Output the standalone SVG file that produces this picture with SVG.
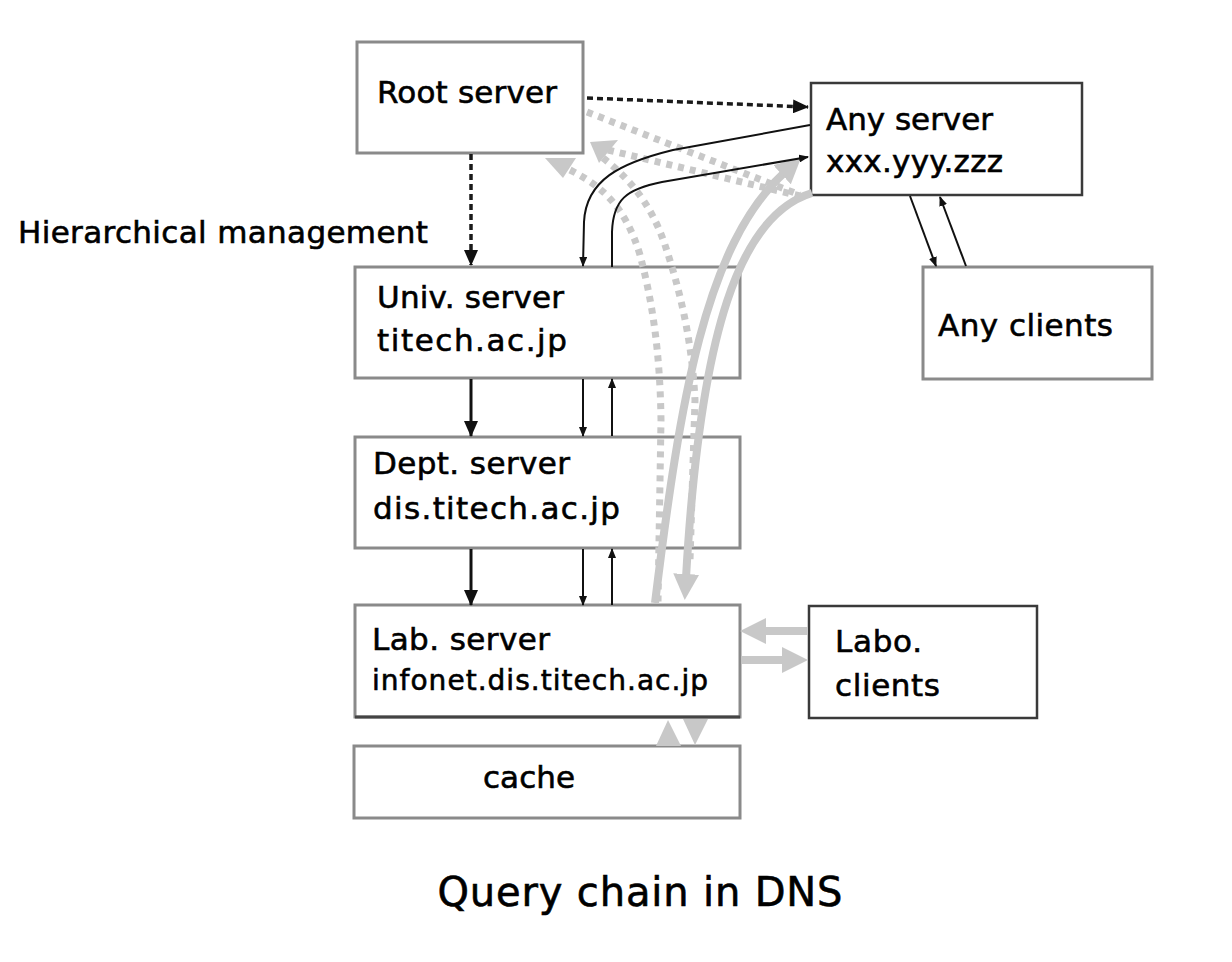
<svg xmlns="http://www.w3.org/2000/svg" width="1232" height="962" viewBox="0 0 1232 962">
<style>
text{font-family:"DejaVu Sans","Liberation Sans",sans-serif;fill:#000;stroke:#000;stroke-width:0.6}
.lbl{font-size:31px}
.box{fill:#fff;stroke:#8a8a8a;stroke-width:3}
.dk{stroke:#3a3a3a;stroke-width:2.5}
.blk{fill:none;stroke:#111;stroke-width:2}
.thk{stroke-width:3}
.bdot{fill:none;stroke:#1a1a1a;stroke-width:3.5;stroke-dasharray:6 4}
.gsol{fill:none;stroke:#c8c8c8;stroke-width:8}
.gdot{fill:none;stroke:#c8c8c8;stroke-width:7;stroke-dasharray:6 6}
.gtri{fill:#c8c8c8}
</style>
<defs>
<marker id="ab" viewBox="0 0 10 8" refX="9" refY="4" markerWidth="10" markerHeight="8" markerUnits="userSpaceOnUse" orient="auto"><path d="M0,0 L10,4 L0,8 z" fill="#111"/></marker>
<marker id="abl" viewBox="0 0 16 14" refX="15" refY="7" markerWidth="16" markerHeight="14" markerUnits="userSpaceOnUse" orient="auto"><path d="M0,0 L16,7 L0,14 z" fill="#111"/></marker>
<marker id="ag" viewBox="0 0 26 26" refX="4" refY="13" markerWidth="26" markerHeight="26" markerUnits="userSpaceOnUse" orient="auto"><path d="M0,0 L26,13 L0,26 z" fill="#c8c8c8"/></marker>
</defs>
<rect width="1232" height="962" fill="#fff"/>

<g id="root">
<rect class="box" x="357" y="42" width="226" height="111"/>
<text class="lbl" x="377" y="103" textLength="180">Root server</text>
</g>
<g id="any-server">
<rect class="box dk" x="811" y="83" width="271" height="112"/>
<text class="lbl" x="826" y="130" textLength="167">Any server</text>
<text class="lbl" x="826" y="172" textLength="177">xxx.yyy.zzz</text>
</g>
<g id="univ-server">
<rect class="box" x="355" y="267" width="385" height="111"/>
<text class="lbl" x="377" y="308" textLength="187">Univ. server</text>
<text class="lbl" x="377" y="351" textLength="190">titech.ac.jp</text>
</g>
<g id="dept-server">
<rect class="box" x="355" y="437" width="385" height="111"/>
<text class="lbl" x="373" y="474" textLength="197">Dept. server</text>
<text class="lbl" x="373" y="519" textLength="247">dis.titech.ac.jp</text>
</g>
<g id="lab-server">
<rect class="box" x="355" y="605" width="385" height="112"/>
<line x1="355" y1="717" x2="740" y2="717" stroke="#444" stroke-width="3"/>
<text class="lbl" x="372" y="650" textLength="178">Lab. server</text>
<text x="372" y="690" font-size="28" textLength="336">infonet.dis.titech.ac.jp</text>
</g>
<g id="cache">
<rect class="box" x="354" y="746" width="386" height="72" stroke="#9a9a9a"/>
<text class="lbl" x="529" y="788" text-anchor="middle" textLength="92">cache</text>
</g>
<g id="labo-clients">
<rect class="box dk" x="809" y="606" width="228" height="112"/>
<text class="lbl" x="835" y="652" textLength="87">Labo.</text>
<text class="lbl" x="835" y="696" textLength="105">clients</text>
</g>
<g id="any-clients">
<rect class="box" x="923" y="267" width="229" height="112" stroke="#9a9a9a" stroke-width="4"/>
<text class="lbl" x="938" y="336" textLength="175">Any clients</text>
</g>

<text class="lbl" x="18" y="243" textLength="410">Hierarchical management</text>
<text x="640" y="906" font-size="40" text-anchor="middle" textLength="405">Query chain in DNS</text>

<g id="connectors">
<path class="gdot" d="M587,112 L800,195"/>
<path class="gdot" d="M608,150 L800,196"/>
<path class="gdot" d="M570,170 C600,185 625,205 640,255 C652,300 660,350 661,420 L658,603"/>
<path class="gdot" d="M603,158 C625,175 650,200 665,245 C680,290 692,340 695,400 L690,560"/>
<polygon class="gtri" points="545,158 576,158 563,178"/>
<polygon class="gtri" points="590,142 618,140 599,163"/>
<path class="gsol" d="M655,603 C680,400 705,245 785,172" marker-end="url(#ag)"/>
<path class="gsol" d="M812,193 C740,215 700,330 686,578" marker-end="url(#ag)"/>
<path class="gsol" d="M808,631 L762,631" marker-end="url(#ag)"/>
<path class="gsol" d="M742,660 L786,660" marker-end="url(#ag)"/>
<polygon class="gtri" points="656,746 681,746 668,720"/>
<polygon class="gtri" points="683,719 708,719 695,745"/>
<path class="bdot" d="M587,98 L808,107" marker-end="url(#abl)"/>
<path class="bdot" d="M471,154 L471,265" marker-end="url(#abl)"/>
<path class="blk" d="M810,125 L673,150 C620,163 586,180 584,222 L583,266" marker-end="url(#ab)"/>
<path class="blk" d="M612,267 L612,232 C613,200 626,189 662,182 L808,157" marker-end="url(#ab)"/>
<path class="blk thk" d="M471,379 L471,436" marker-end="url(#abl)"/>
<path class="blk thk" d="M471,549 L471,605" marker-end="url(#abl)"/>
<path class="blk" d="M583,379 L583,436" marker-end="url(#ab)"/>
<path class="blk" d="M583,549 L583,605" marker-end="url(#ab)"/>
<path class="blk" d="M612,436 L612,379" marker-end="url(#ab)"/>
<path class="blk" d="M612,605 L612,549" marker-end="url(#ab)"/>
<path class="blk" d="M910,196 L936,266" marker-end="url(#ab)"/>
<path class="blk" d="M966,266 L940,197" marker-end="url(#ab)"/>
</g>
</svg>
